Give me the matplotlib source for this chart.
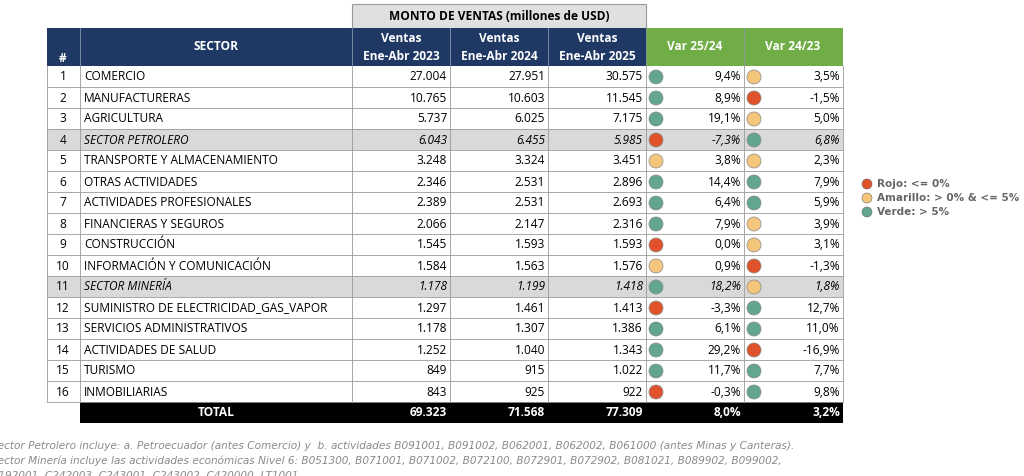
import matplotlib.pyplot as plt
from matplotlib.patches import Rectangle, Circle

sectores = ["COMERCIO", "MANUFACTURERAS", "AGRICULTURA", "SECTOR PETROLERO",
            "TRANSPORTE Y ALMACENAMIENTO", "OTRAS ACTIVIDADES", "ACTIVIDADES PROFESIONALES",
            "FINANCIERAS Y SEGUROS", "CONSTRUCCIÓN", "INFORMACIÓN Y COMUNICACIÓN",
            "SECTOR MINERÍA", "SUMINISTRO DE ELECTRICIDAD_GAS_VAPOR",
            "SERVICIOS ADMINISTRATIVOS", "ACTIVIDADES DE SALUD", "TURISMO", "INMOBILIARIAS"]
v2023 = ["27.004", "10.765", "5.737", "6.043", "3.248", "2.346", "2.389", "2.066", "1.545",
         "1.584", "1.178", "1.297", "1.178", "1.252", "849", "843"]
v2024 = ["27.951", "10.603", "6.025", "6.455", "3.324", "2.531", "2.531", "2.147", "1.593",
         "1.563", "1.199", "1.461", "1.307", "1.040", "915", "925"]
v2025 = ["30.575", "11.545", "7.175", "5.985", "3.451", "2.896", "2.693", "2.316", "1.593",
         "1.576", "1.418", "1.413", "1.386", "1.343", "1.022", "922"]
var2524 = [9.4, 8.9, 19.1, -7.3, 3.8, 14.4, 6.4, 7.9, 0.0, 0.9, 18.2, -3.3, 6.1, 29.2, 11.7, -0.3]
var2423 = [3.5, -1.5, 5.0, 6.8, 2.3, 7.9, 5.9, 3.9, 3.1, -1.3, 1.8, 12.7, 11.0, -16.9, 7.7, 9.8]
totales = ["69.323", "71.568", "77.309", "8,0%", "3,2%"]
resaltados = [3, 10]

NAVY = "#1f3864"
GREEN = "#70ad47"
C_RED, C_YEL, C_GRN = "#e0522c", "#f3c67c", "#63a68f"


def semaforo(v):
    if v <= 0:
        return C_RED
    if v <= 5:
        return C_YEL
    return C_GRN


def pct(v):
    return f"{v:.1f}%".replace(".", ",")


fig = plt.figure(figsize=(10.24, 4.76), dpi=100)
ax = fig.add_axes([0, 0, 1, 1])
ax.set_xlim(0, 1024)
ax.set_ylim(476, 0)
ax.axis("off")

xs = [47, 80, 352, 450, 548, 646, 744, 843]
y_head, row_h = 66, 21
font = "Open Sans"
fs = 8.6

# cabecera gris
ax.add_patch(Rectangle((352, 4), 294, 24, fc="#e0e0e0", ec="#999999", lw=0.8))
ax.text(499, 16, "MONTO DE VENTAS (millones de USD)", ha="center", va="center",
        fontsize=fs, fontweight="bold", family=font)
# cabecera azul / verde
ax.add_patch(Rectangle((47, 28), 599, 38, fc=NAVY, ec="none"))
ax.add_patch(Rectangle((646, 28), 197, 38, fc=GREEN, ec="none"))
for x in xs[1:-1]:
    ax.plot([x, x], [28, 66], color="#8899aa", lw=0.6)
ax.text(63, 58, "#", ha="center", va="center", color="white", fontsize=fs, fontweight="bold", family=font)
ax.text(216, 47, "SECTOR", ha="center", va="center", color="white", fontsize=fs, fontweight="bold", family=font)
for i, yr in enumerate(["2023", "2024", "2025"]):
    cx = (xs[2 + i] + xs[3 + i]) / 2
    ax.text(cx, 38, "Ventas", ha="center", va="center", color="white", fontsize=fs, fontweight="bold", family=font)
    ax.text(cx, 56, f"Ene-Abr {yr}", ha="center", va="center", color="white", fontsize=fs, fontweight="bold", family=font)
ax.text(695, 47, "Var 25/24", ha="center", va="center", color="white", fontsize=fs, fontweight="bold", family=font)
ax.text(793, 47, "Var 24/23", ha="center", va="center", color="white", fontsize=fs, fontweight="bold", family=font)

# filas
for i, s in enumerate(sectores):
    y0 = y_head + i * row_h
    yc = y0 + row_h / 2 + 0.5
    bg = "#d9d9d9" if i in resaltados else "white"
    ax.add_patch(Rectangle((47, y0), 796, row_h, fc=bg, ec="none"))
    ax.plot([47, 843], [y0 + row_h, y0 + row_h], color="#9a9a9a", lw=0.6)
    st = "italic" if i in resaltados else "normal"
    ax.text(63, yc, str(i + 1), ha="center", va="center", fontsize=fs, family=font)
    ax.text(84, yc, s, ha="left", va="center", fontsize=fs, family=font, style=st)
    for j, col in enumerate([v2023, v2024, v2025]):
        ax.text(xs[3 + j] - 3, yc, col[i], ha="right", va="center", fontsize=fs, family=font, style=st)
    for j, col in enumerate([var2524, var2423]):
        ax.add_patch(Circle((xs[5 + j] + 10, yc), 7, fc=semaforo(col[i]), ec="#888888", lw=0.5))
        ax.text(xs[6 + j] - 3, yc, pct(col[i]), ha="right", va="center", fontsize=fs, family=font, style=st)
for x in xs:
    ax.plot([x, x], [66, 402], color="#9a9a9a", lw=0.6)

# total
ax.add_patch(Rectangle((80, 402), 763, 21, fc="black", ec="none"))
ax.text(216, 412.5, "TOTAL", ha="center", va="center", color="white", fontsize=fs, fontweight="bold", family=font)
for j, t in enumerate(totales):
    ax.text(xs[3 + j] - 3, 412.5, t, ha="right", va="center", color="white", fontsize=fs, fontweight="bold", family=font)

# leyenda
leg = [(C_RED, "Rojo: <= 0%"), (C_YEL, "Amarillo: > 0% & <= 5%"), (C_GRN, "Verde: > 5%")]
for k, (c, t) in enumerate(leg):
    yy = 184 + k * 14
    ax.add_patch(Circle((867, yy), 5, fc=c, ec="#666666", lw=0.4))
    ax.text(877, yy, t, ha="left", va="center", fontsize=7.5, fontweight="bold", color="#666666", family="DejaVu Sans")

# notas
notas = ["Sector Petrolero incluye: a. Petroecuador (antes Comercio) y  b. actividades B091001, B091002, B062001, B062002, B061000 (antes Minas y Canteras).",
         "Sector Minería incluye las actividades económicas Nivel 6: B051300, B071001, B071002, B072100, B072901, B072902, B081021, B089902, B099002,",
         "C192001, C242003, C243001, C243002, C420000, LT1001"]
for k, n in enumerate(notas):
    ax.text(-9, 446 + k * 15, n, ha="left", va="center", fontsize=7.6, style="italic",
            color="#8a8a8a", family="Liberation Sans Narrow")

fig.savefig("out.png", dpi=100)
